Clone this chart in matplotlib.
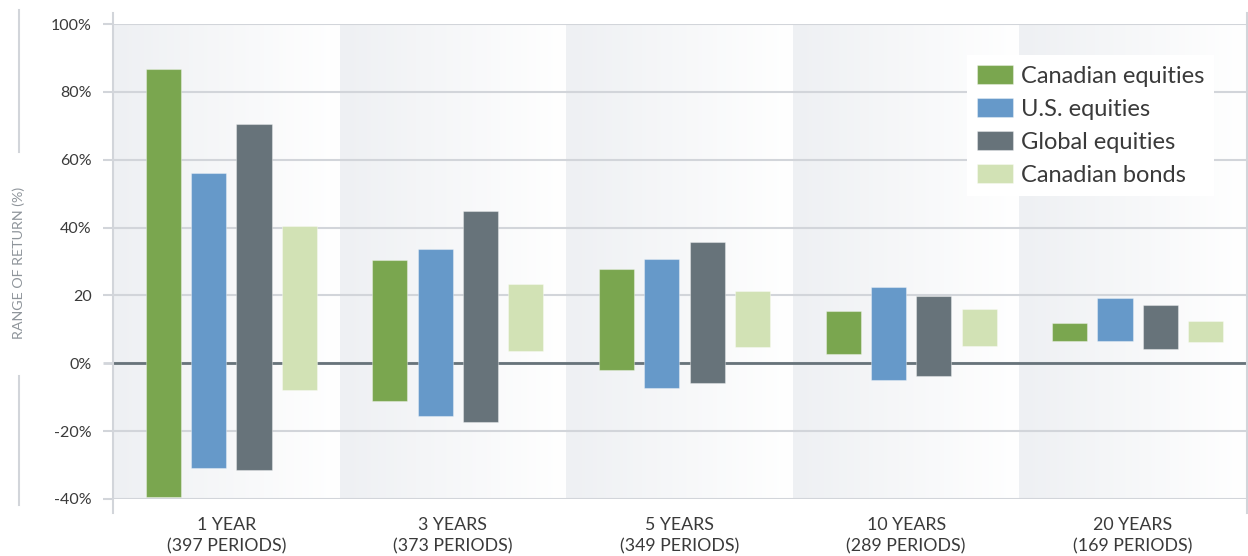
import numpy as np
import matplotlib.pyplot as plt
from matplotlib.colors import LinearSegmentedColormap
from matplotlib.lines import Line2D

# data: (low, high) range of return per horizon
periods = ['1 YEAR\n(397 PERIODS)', '3 YEARS\n(373 PERIODS)', '5 YEARS\n(349 PERIODS)',
           '10 YEARS\n(289 PERIODS)', '20 YEARS\n(169 PERIODS)']
series = ['Canadian equities', 'U.S. equities', 'Global equities', 'Canadian bonds']
cad_eq_low = [-39.4, -11.1, -2.0, 2.6, 6.6]
cad_eq_high = [86.8, 30.4, 27.7, 15.4, 12.0]
us_eq_low = [-30.9, -15.5, -7.4, -4.9, 6.6]
us_eq_high = [56.1, 33.7, 30.6, 22.5, 19.2]
glob_eq_low = [-31.4, -17.3, -5.7, -3.7, 4.3]
glob_eq_high = [70.5, 44.9, 35.8, 19.8, 17.3]
cad_bd_low = [-7.9, 3.6, 4.9, 5.1, 6.4]
cad_bd_high = [40.5, 23.3, 21.4, 16.0, 12.6]

yticks = [-40, -20, 0, 20, 40, 60, 80, 100]
ytick_labels = ['-40%', '-20%', '0%', '20', '40%', '60%', '80%', '100%']

colors = ['#7aa64f', '#6699c9', '#67737a', '#d2e2b5']
grid_color = '#d2d5da'
text_color = '#3a3a3a'

plt.rcParams['font.family'] = ['Lato', 'DejaVu Sans']

W, H = 1248, 556
fig = plt.figure(figsize=(W / 100, H / 100), dpi=100)
ax = fig.add_axes([113 / W, 1 - 499 / H, (1246 - 113) / W, (499 - 24) / H])

# gradient background bands, one per category
band_cmap = LinearSegmentedColormap.from_list('band', ['#eef0f3', '#ffffff'])
grad = np.linspace(0, 1, 256).reshape(1, -1)
for i in range(len(periods)):
    ax.imshow(grad, cmap=band_cmap, aspect='auto', extent=[i - 0.5, i + 0.5, -40, 100],
              zorder=0, interpolation='bicubic')

lows = [cad_eq_low, us_eq_low, glob_eq_low, cad_bd_low]
highs = [cad_eq_high, us_eq_high, glob_eq_high, cad_bd_high]
x = np.arange(len(periods))
width = 0.155
for j in range(4):
    lo = np.array(lows[j])
    hi = np.array(highs[j])
    ax.bar(x + (j - 1.5) * 0.2 + 0.022, hi - lo, width, bottom=lo, color=colors[j],
           edgecolor=(1, 1, 1, 0.35), linewidth=0.8, label=series[j], zorder=3)

ax.set_xlim(-0.5, 4.5)
ax.set_ylim(-40, 100)
ax.set_yticks(yticks)
ax.set_yticklabels(ytick_labels)
ax.set_xticks(x)
ax.set_xticklabels(periods)
ax.tick_params(axis='x', length=0, pad=13, labelsize=12.8, labelcolor=text_color)
ax.tick_params(axis='y', length=7.5, width=1.5, color=grid_color, pad=8, labelsize=11.5,
               labelcolor=text_color)
for t in ax.get_xticklabels():
    t.set_linespacing(1.4)
ax.grid(axis='y', color=grid_color, linewidth=1.5, zorder=1)
ax.set_axisbelow(True)
for s in ax.spines.values():
    s.set_visible(False)

# zero line, darker
ax.axhline(0, color='#67737a', linewidth=2, zorder=2)
for t, v in zip(ax.yaxis.get_major_ticks(), yticks):
    if v == 0:
        t.tick1line.set_color('#67737a')
        t.tick1line.set_markeredgewidth(2)

# vertical frame lines, extending past the plot
for px in (113, 1246.5):
    fig.add_artist(Line2D([px / W, px / W], [1 - 513 / H, 1 - 13 / H], color=grid_color, linewidth=1.5))

# y label with decorative lines above and below
fig.text(19 / W, 1 - 263 / H, 'RANGE OF RETURN (%)', rotation=90, ha='center', va='center',
         fontsize=10.3, color='#8f959b')
fig.add_artist(Line2D([19 / W, 19 / W], [1 - 152 / H, 1 - 10 / H], color=grid_color, linewidth=1.5))
fig.add_artist(Line2D([19 / W, 19 / W], [1 - 505 / H, 1 - 376 / H], color=grid_color, linewidth=1.5))

leg = ax.legend(loc='upper left', bbox_to_anchor=(967 / W, 1 - 55 / H),
                bbox_transform=fig.transFigure, fontsize=17, frameon=True, fancybox=False,
                handlelength=1.53, handleheight=0.85, handletextpad=0.34, labelspacing=0.49,
                borderpad=0.42, borderaxespad=0)
leg.get_frame().set_facecolor('white')
leg.get_frame().set_edgecolor('none')
leg.get_frame().set_alpha(1)
for t in leg.get_texts():
    t.set_color(text_color)

fig.savefig('out.png', dpi=100)
